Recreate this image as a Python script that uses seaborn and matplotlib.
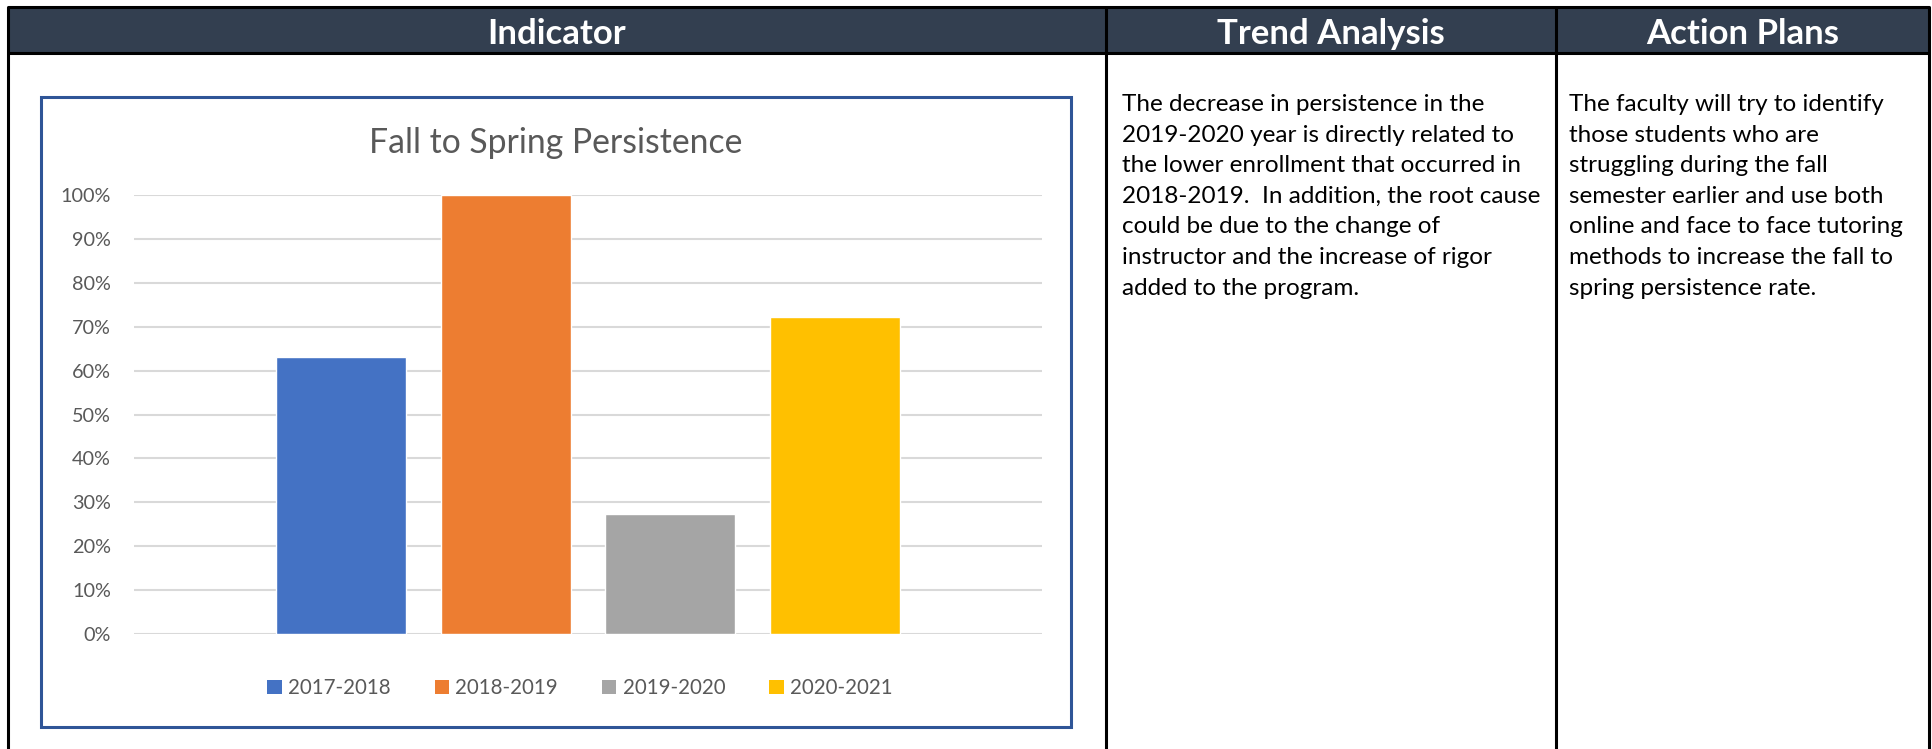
import matplotlib
matplotlib.use("Agg")
import matplotlib.pyplot as plt
from matplotlib.patches import Rectangle, Patch
from matplotlib.ticker import PercentFormatter
import seaborn as sns
import pandas as pd

# ---------------- data ----------------
years = ["2017-2018", "2018-2019", "2019-2020", "2020-2021"]
persistence = [0.632, 1.00, 0.273, 0.722]
bar_colors = ["#4472C4", "#ED7D31", "#A5A5A5", "#FFC000"]
y_ticks = [0.0, 0.1, 0.2, 0.3, 0.4, 0.5, 0.6, 0.7, 0.8, 0.9, 1.0]
chart_title = "Fall to Spring Persistence"
headers = ["Indicator", "Trend Analysis", "Action Plans"]
trend_lines = [
    "The decrease in persistence in the",
    "2019-2020 year is directly related to",
    "the lower enrollment that occurred in",
    "2018-2019.  In addition, the root cause",
    "could be due to the change of",
    "instructor and the increase of rigor",
    "added to the program.",
]
action_lines = [
    "The faculty will try to identify",
    "those students who are",
    "struggling during the fall",
    "semester earlier and use both",
    "online and face to face tutoring",
    "methods to increase the fall to",
    "spring persistence rate.",
]

df = pd.DataFrame({"year": years, "value": persistence})

sns.set_theme(style="white")
plt.rcParams["font.family"] = ["Lato", "DejaVu Sans"]

W, H = 1933, 749
fig = plt.figure(figsize=(W / 100, H / 100), dpi=100)

# ---------------- table background ----------------
bg = fig.add_axes([0, 0, 1, 1])
bg.set_xlim(0, W)
bg.set_ylim(H, 0)
bg.axis("off")

header_color = "#333F50"
x_left, x_c1, x_c2, x_right = 8, 1106, 1556, 1929
y_top, y_head = 7, 53
bg.add_patch(Rectangle((x_left, y_top), x_right - x_left, y_head - y_top,
                       facecolor=header_color, edgecolor="none", zorder=1))
lw_tab = 2.2
for x in (x_left, x_c1, x_c2, x_right):
    bg.plot([x, x], [y_top, H + 5], color="black", lw=lw_tab, zorder=2,
            solid_capstyle="butt")
for y in (y_top, y_head):
    bg.plot([x_left, x_right], [y, y], color="black", lw=lw_tab, zorder=2)

centers = [(x_left + x_c1) / 2, (x_c1 + x_c2) / 2, (x_c2 + x_right) / 2]
for cx, h in zip(centers, headers):
    bg.text(cx, 34, h, color="white", fontsize=25, fontweight="bold",
            ha="center", va="center", zorder=3)

# column texts
line_gap = 30.6
for i, line in enumerate(trend_lines):
    bg.text(1122, 111 + i * line_gap, line, fontsize=17.5, color="black",
            ha="left", va="baseline", zorder=3)
for i, line in enumerate(action_lines):
    bg.text(1569, 111 + i * line_gap, line, fontsize=17.5, color="black",
            ha="left", va="baseline", zorder=3)

# chart frame
bg.add_patch(Rectangle((41, 97), 1071 - 41, 727 - 97, facecolor="white",
                       edgecolor="#2F5597", lw=2.2, zorder=2))

bg.text(556, 143, chart_title, fontsize=24.3, color="#595959",
        ha="center", va="center", zorder=3)

# ---------------- bar chart ----------------
px_l, px_r, px_t, px_b = 134, 1042, 195, 634
ax = fig.add_axes([px_l / W, 1 - px_b / H, (px_r - px_l) / W, (px_b - px_t) / H])
ax.set_zorder(5)
ax.patch.set_alpha(0)

sns.barplot(data=df, x="year", y="value", hue="year", palette=bar_colors,
            width=0.79, legend=False, ax=ax, saturation=1)

ax.set_ylim(0, 1.0)
ax.set_xlim(-1.257, 4.257)
ax.set_yticks(y_ticks)
ax.yaxis.set_major_formatter(PercentFormatter(1.0, decimals=0))
ax.set_xticks([])
ax.set_xlabel("")
ax.set_ylabel("")
ax.yaxis.grid(True, color="#D9D9D9", lw=1.5)
ax.set_axisbelow(True)
for s in ax.spines.values():
    s.set_visible(False)
ax.tick_params(axis="y", length=0, pad=16.5, labelsize=14.3, labelcolor="#595959")

handles = [Patch(facecolor=c, edgecolor="none") for c in bar_colors]
fig.legend(handles, years, loc="center", bbox_to_anchor=(580 / W, 1 - 688 / H),
           ncol=4, frameon=False, fontsize=14.8, labelcolor="#595959",
           handlelength=0.7, handleheight=0.7, handletextpad=0.3,
           columnspacing=2.15, borderpad=0)

fig.savefig("out.png", dpi=100)
